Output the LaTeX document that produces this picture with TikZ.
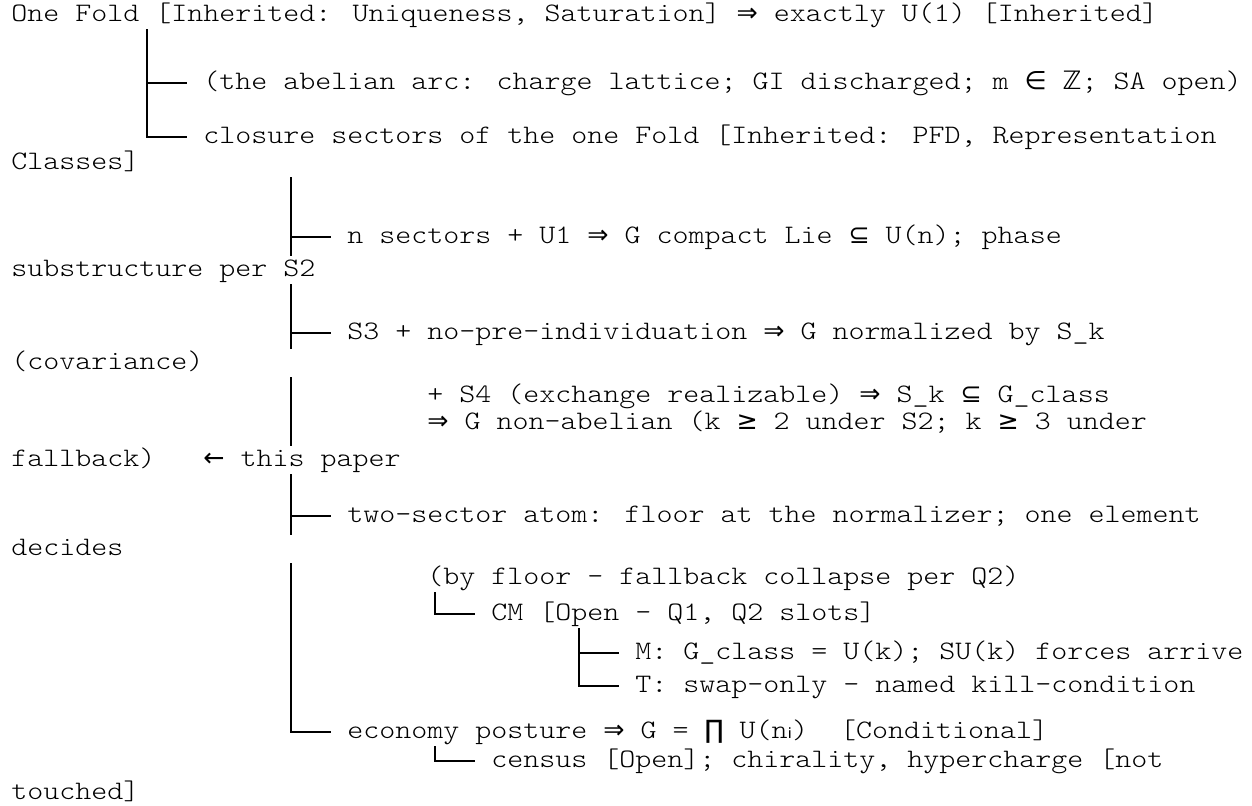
\documentclass[tikz,border=0pt]{standalone}
\usepackage{fontspec}
\newfontfamily\codefont{lmmonolt10-regular.otf}[FakeStretch=1.1429]
\newfontfamily\symfont{DejaVu Sans}[Scale=0.95]
\usepackage{tikz}
\usetikzlibrary{calc}
\newcommand{\sym}[1]{{\symfont #1}}
\newcommand{\charw}{12pt}
\tikzset{
    txt/.style={anchor=west, inner xsep=0pt, inner ysep=1pt, text height=14.4pt, text depth=4.4pt, font=\fontsize{20}{24}\selectfont\codefont},
    branch/.style={line width=1.5pt, black},
}

\begin{document}
\begin{tikzpicture}[x=0.75pt, y=-0.75pt]
\useasboundingbox[fill=white] (0,0) rectangle (1252,806);

% Root and its two arcs
\node[txt] (root) at (11,15) {One Fold [Inherited: Uniqueness, Saturation] \sym{⇒} exactly U(1) [Inherited]};
\node[txt] (abel) at (203,83) {(the abelian arc: charge lattice; GI discharged; m \sym{∈} \sym{ℤ}; SA open)};
\node[txt] (clos) at (203,137) {closure sectors of the one Fold [Inherited: PFD, Representation};
\node[txt] (closB) at (11,163) {Classes]};

% Closure sectors: one row per step (wrapped rows start at the margin)
\node[txt] (nsec) at (347,237) {n sectors + U1 \sym{⇒} G compact Lie \sym{⊆} U(n); phase};
\node[txt] (nsecB) at (11,270) {substructure per S2};
\node[txt] (sthree) at (347,333) {S3 + no-pre-individuation \sym{⇒} G normalized by S\_k};
\node[txt] (sthreeB) at (11,363) {(covariance)};
\node[txt] (sfour) at (427,396) {+ S4 (exchange realizable) \sym{⇒} S\_k \sym{⊆} G\_class};
\node[txt] (nonab) at (427,423) {\sym{⇒} G non-abelian (k \sym{≥} 2 under S2; k \sym{≥} 3 under};
\node[txt] (nonabB) at (11,460) {fallback)\ \ \ \sym{←} this paper};
\node[txt] (atom) at (347,516) {two-sector atom: floor at the normalizer; one element};
\node[txt] (atomB) at (11,549) {decides};

% Two-sector atom
\node[txt] (byfloor) at (427,578) {(by floor — fallback collapse per Q2)};
\node[txt] (cm) at (491,614) {CM [Open — Q1, Q2 slots]};
\node[txt] (mopt) at (635,653) {M: G\_class = U(k); SU(k) forces arrive};
\node[txt] (topt) at (635,686) {T: swap-only — named kill-condition};

% Economy posture
\node[txt] (econ) at (347,732) {economy posture \sym{⇒} G = \sym{∏} U(n\sym{ᵢ})\ \ [Conditional]};
\node[txt] (census) at (491,761) {census [Open]; chirality, hypercharge [not};
\node[txt] (censusB) at (11,793) {touched]};

% Branches from the root
\coordinate (rootfork) at ([xshift=8.5*\charw]root.south west);
\draw[branch] (rootfork) |- ([xshift=-\charw]clos.west);
\draw[branch] (rootfork |- abel.west) -- ([xshift=-\charw]abel.west);

% Trunk of the closure sectors, broken at the wrapped rows
\coordinate (closfork) at ([xshift=5.5*\charw]clos.south west);
\draw[branch] (closfork |- closB.south) -- (closfork |- nsecB.north);
\draw[branch] (closfork |- nsecB.south) -- (closfork |- sthreeB.north);
\draw[branch] (closfork |- sthreeB.south) -- (closfork |- nonabB.north);
\draw[branch] (closfork |- nonabB.south) -- (closfork |- atomB.north);
\draw[branch] (closfork |- atomB.south) |- ([xshift=-\charw]econ.west);
\foreach \n in {nsec, sthree, atom}
    \draw[branch] (closfork |- \n.west) -- ([xshift=-\charw]\n.west);

% Inner branches
\draw[branch] ([xshift=.5*\charw]byfloor.south west) |- ([xshift=-\charw]cm.west);
\coordinate (cmfork) at ([xshift=5.5*\charw]cm.south west);
\draw[branch] (cmfork) |- ([xshift=-\charw]topt.west);
\draw[branch] (cmfork |- mopt.west) -- ([xshift=-\charw]mopt.west);
\coordinate (econfork) at ([xshift=5.5*\charw]econ.south west);
\draw[branch] (econfork) |- ([xshift=-\charw]census.west);

\end{tikzpicture}
\end{document}
